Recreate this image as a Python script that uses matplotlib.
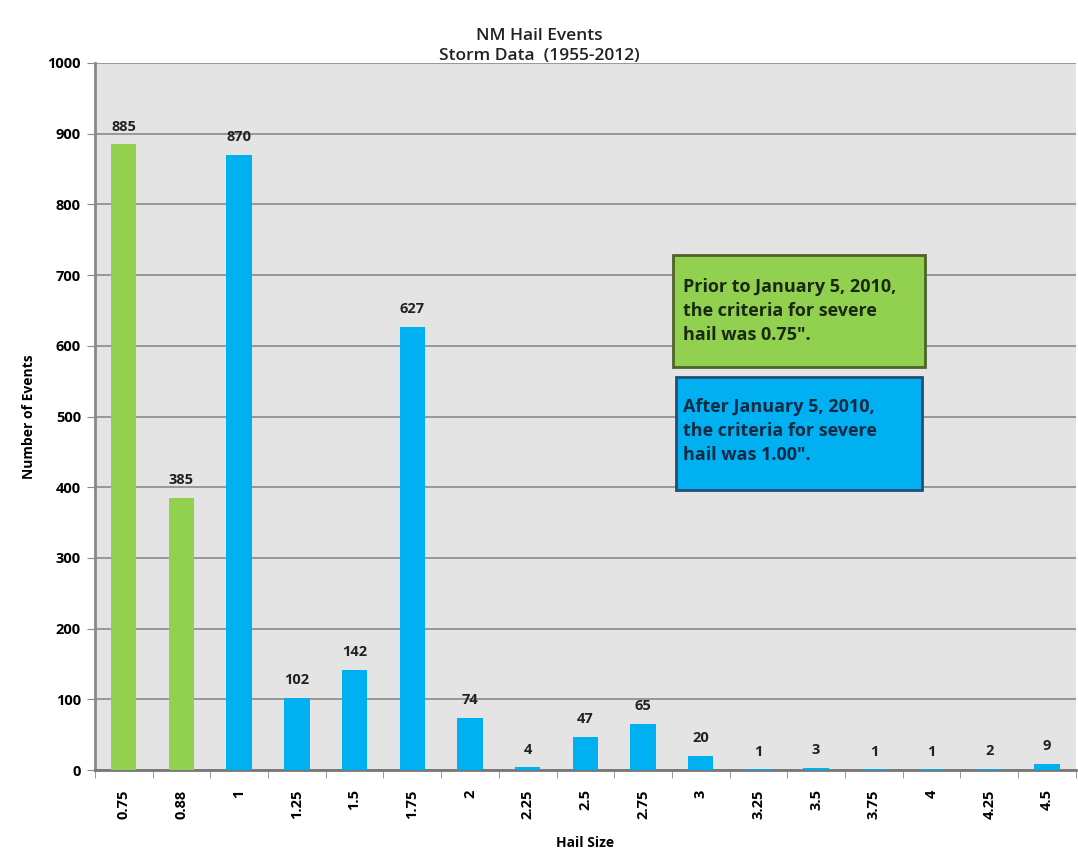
import matplotlib
matplotlib.use("Agg")
import matplotlib.pyplot as plt
from matplotlib.patches import FancyBboxPatch

sizes = ["0.75", "0.88", "1", "1.25", "1.5", "1.75", "2", "2.25", "2.5", "2.75",
         "3", "3.25", "3.5", "3.75", "4", "4.25", "4.5"]
events = [885, 385, 870, 102, 142, 627, 74, 4, 47, 65, 20, 1, 3, 1, 1, 2, 9]
old_criteria = ["0.75", "0.88"]
yticks = [0, 100, 200, 300, 400, 500, 600, 700, 800, 900, 1000]

green = "#92D050"
blue = "#00B0F0"

plt.rcParams['font.family'] = ['Open Sans', 'DejaVu Sans']

fig = plt.figure(figsize=(10.78, 8.57), dpi=100)
ax = fig.add_axes([0.088, 0.1015, 0.910, 0.825])
ax.set_facecolor("#E4E4E4")

x = list(range(len(sizes)))
colors = [green if s in old_criteria else blue for s in sizes]
bars = ax.bar(x, events, width=0.44, color=colors, edgecolor="none", zorder=3)
for xi, v in zip(x, events):
    ax.text(xi, v + 15, str(v), ha="center", va="bottom", fontsize=10.5,
            fontweight="bold", color="#222222", zorder=4)

ax.set_xlim(-0.5, len(sizes) - 0.5)
ax.set_ylim(0, 1000)
ax.set_yticks(yticks)
ax.set_yticklabels([str(t) for t in yticks], fontsize=10.5, fontweight="bold")
ax.set_xticks(x)
ax.set_xticklabels(sizes, rotation=90, fontsize=10.5, fontweight="bold")
ax.set_xticks([i - 0.5 for i in range(len(sizes) + 1)], minor=True)
ax.tick_params(axis="x", which="major", length=0, pad=14)
ax.tick_params(axis="x", which="minor", length=6, color="#888888")
ax.tick_params(axis="y", length=6, color="#888888", pad=4)
ax.grid(axis="y", color="#8A8A8A", linewidth=1.2, zorder=1)
for side in ["top", "right"]:
    ax.spines[side].set_visible(False)
ax.spines["left"].set_color("#888888")
ax.spines["left"].set_linewidth(2)
ax.spines["bottom"].set_color("#777777")
ax.spines["bottom"].set_linewidth(2)

ax.set_xlabel("Hail Size", fontsize=10, fontweight="bold", labelpad=12)
ax.set_ylabel("Number of Events", fontsize=10, fontweight="bold", labelpad=8)

fig.text(0.5, 0.958, "NM Hail Events", ha="center", va="center", fontsize=12.5,
         fontweight="semibold", color="#222222")
fig.text(0.5, 0.935, "Storm Data  (1955-2012)", ha="center", va="center", fontsize=12.5,
         fontweight="semibold", color="#222222")

# annotation boxes
box1 = FancyBboxPatch((673 / 1078, 1 - 367 / 857), (925 - 673) / 1078, (367 - 255) / 857,
                      boxstyle="square,pad=0", transform=fig.transFigure,
                      facecolor=green, edgecolor="#4F6228", linewidth=2, zorder=5)
box2 = FancyBboxPatch((676 / 1078, 1 - 490 / 857), (922 - 676) / 1078, (490 - 377) / 857,
                      boxstyle="square,pad=0", transform=fig.transFigure,
                      facecolor=blue, edgecolor="#1F4E79", linewidth=2, zorder=5)
fig.patches.extend([box1, box2])
fig.text(683 / 1078, 1 - 311 / 857,
         "Prior to January 5, 2010,\nthe criteria for severe\nhail was 0.75\".",
         ha="left", va="center", fontsize=13, fontweight="bold",
         color="#1a2a10", linespacing=1.45, zorder=6)
fig.text(683 / 1078, 1 - 431 / 857,
         "After January 5, 2010,\nthe criteria for severe\nhail was 1.00\".",
         ha="left", va="center", fontsize=13, fontweight="bold",
         color="#0d2a45", linespacing=1.45, zorder=6)

fig.savefig("out.png", dpi=100)
